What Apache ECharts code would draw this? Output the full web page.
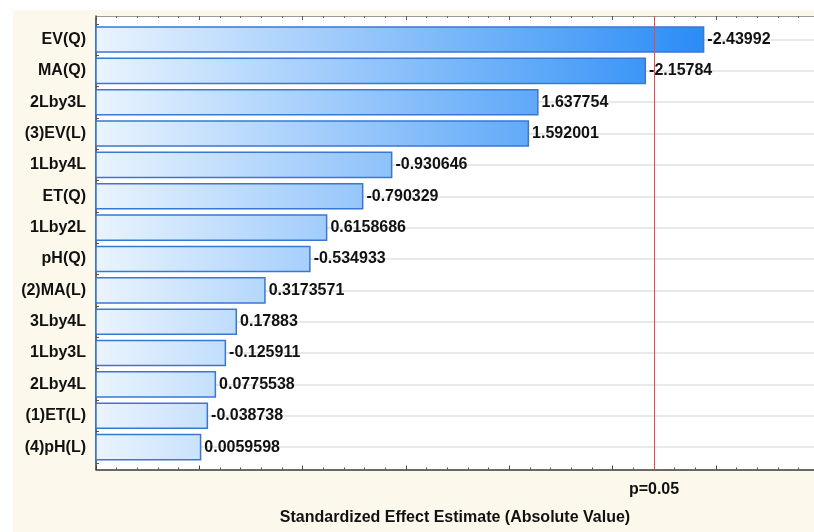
<!DOCTYPE html>
<html>
<head>
<meta charset="utf-8">
<script src="https://cdn.jsdelivr.net/npm/echarts@6/dist/echarts.min.js"></script>
<style>
  html, body { margin: 0; padding: 0; background: #fff; }
  #chart { width: 814px; height: 532px; }
</style>
</head>
<body>
<div id="chart"></div>
<script>
// Pareto chart of standardized effects
const factors = ['EV(Q)', 'MA(Q)', '2Lby3L', '(3)EV(L)', '1Lby4L', 'ET(Q)', '1Lby2L',
                 'pH(Q)', '(2)MA(L)', '3Lby4L', '1Lby3L', '2Lby4L', '(1)ET(L)', '(4)pH(L)'];
const effects = [-2.43992, -2.15784, 1.637754, 1.592001, -0.930646, -0.790329, 0.6158686,
                 -0.534933, 0.3173571, 0.17883, -0.125911, 0.0775538, -0.038738, 0.0059598];
const pCritical = 2.200985;   // t value for p = 0.05
const pLabel = 'p=0.05';
const axisTitle = 'Standardized Effect Estimate (Absolute Value)';

const X_MIN = -0.5, X_MAX = 2.974;
const FONT = '"Liberation Sans", Arial, sans-serif';
const maxAbs = Math.max(...effects.map(Math.abs));

const chart = echarts.init(document.getElementById('chart'), null, { renderer: 'canvas' });

const plotLeft = 96, plotTop = 16, plotHeight = 453.5;
const bandTop = 23.8, bandHeight = 439;

chart.setOption({
  animation: false,
  backgroundColor: '#fdf8ec',
  graphic: [
    { type: 'rect', shape: { x: 0, y: 0, width: 814, height: 10 }, style: { fill: '#fff' }, silent: true },
    { type: 'rect', shape: { x: 0, y: 0, width: 13, height: 532 }, style: { fill: '#fff' }, silent: true }
  ],
  grid: [
    { left: plotLeft, top: plotTop, right: 0, height: plotHeight,
      show: true, backgroundColor: '#fff', borderWidth: 0 },
    { left: plotLeft, top: bandTop, right: 0, height: bandHeight }
  ],
  xAxis: [
    { // bottom frame axis
      type: 'value', gridIndex: 0, position: 'bottom', min: X_MIN, max: X_MAX, interval: 0.5,
      axisLine: { show: true, onZero: false, lineStyle: { color: '#3a3a3a', width: 1.5 } },
      axisTick: { show: true, inside: true, length: 4, lineStyle: { color: '#444' } },
      minorTick: { show: true, splitNumber: 5, length: 2, lineStyle: { color: '#555' } },
      axisLabel: { show: false },
      splitLine: { show: false },
      name: axisTitle, nameLocation: 'middle', nameGap: 40,
      nameTextStyle: { fontFamily: FONT, fontWeight: 'bold', fontSize: 16, color: '#111' }
    },
    { // top frame axis
      type: 'value', gridIndex: 0, position: 'top', min: X_MIN, max: X_MAX, interval: 0.5,
      axisLine: { show: true, onZero: false, lineStyle: { color: '#9a9a9a', width: 1 } },
      axisTick: { show: true, inside: true, length: 4, lineStyle: { color: '#555' } },
      minorTick: { show: true, splitNumber: 5, length: 2, lineStyle: { color: '#666' } },
      axisLabel: { show: false },
      splitLine: { show: false }
    },
    { // scale used by the bars
      type: 'value', gridIndex: 1, min: X_MIN, max: X_MAX, show: false
    }
  ],
  yAxis: [
    { // left frame line
      type: 'value', gridIndex: 0, position: 'left', min: 0, max: 1,
      axisLine: { show: true, onZero: false, lineStyle: { color: '#3a3a3a', width: 1.5 } },
      axisTick: { show: false }, axisLabel: { show: false }, splitLine: { show: false }
    },
    { // factor names
      type: 'category', gridIndex: 1, position: 'left', inverse: true, data: factors,
      axisLine: { show: false, onZero: false },
      axisTick: { show: true, inside: true, alignWithLabel: true, length: 5, lineStyle: { color: '#444' } },
      axisLabel: { margin: 10, fontFamily: FONT, fontWeight: 'bold', fontSize: 16, color: '#111' },
      splitLine: { show: true, alignWithLabel: true, lineStyle: { color: '#e2e2e2', width: 1.5 } }
    },
    { // quarter-band tick marks on the left edge
      type: 'value', gridIndex: 1, position: 'left', offset: 0, min: 0, max: 14, interval: 1,
      axisLine: { show: false, onZero: false },
      axisTick: { show: true, inside: true, length: 3, lineStyle: { color: '#555' } },
      minorTick: { show: true, splitNumber: 4, length: 3, lineStyle: { color: '#555' } },
      axisLabel: { show: false }, splitLine: { show: false }
    }
  ],
  series: [
    {
      type: 'custom',
      xAxisIndex: 2, yAxisIndex: 1,
      data: effects.map((v, i) => [Math.abs(v), i]),
      encode: { x: 0, y: 1 },
      z: 3,
      renderItem: function (params, api) {
        const idx = api.value(1);
        const start = api.coord([X_MIN, idx]);
        const end = api.coord([api.value(0), idx]);
        const h = api.size([0, 1])[1] * 0.8;
        const g0 = api.coord([X_MIN, 0])[0];
        const g1 = api.coord([maxAbs, 0])[0];
        return {
          type: 'rect',
          shape: { x: start[0], y: start[1] - h / 2, width: end[0] - start[0], height: h },
          style: {
            fill: new echarts.graphic.LinearGradient(g0, 0, g1, 0, [
              { offset: 0, color: '#eaf4fe' },
              { offset: 1, color: '#2a8cf6' }
            ], true),
            stroke: '#3778d4', lineWidth: 1.5
          },
          textContent: {
            style: {
              text: String(effects[params.dataIndex]),
              fill: '#111', font: 'bold 16px ' + FONT
            }
          },
          textConfig: { position: 'right', distance: 3 }
        };
      }
    },
    {
      type: 'line', xAxisIndex: 0, yAxisIndex: 0, data: [],
      markLine: {
        silent: true, symbol: 'none',
        lineStyle: { color: '#f04545', width: 1, type: 'solid' },
        label: { show: true, position: 'start', distance: 12, formatter: pLabel,
                 fontFamily: FONT, fontWeight: 'bold', fontSize: 16, color: '#111' },
        data: [{ xAxis: pCritical }]
      }
    }
  ]
});
</script>
</body>
</html>
